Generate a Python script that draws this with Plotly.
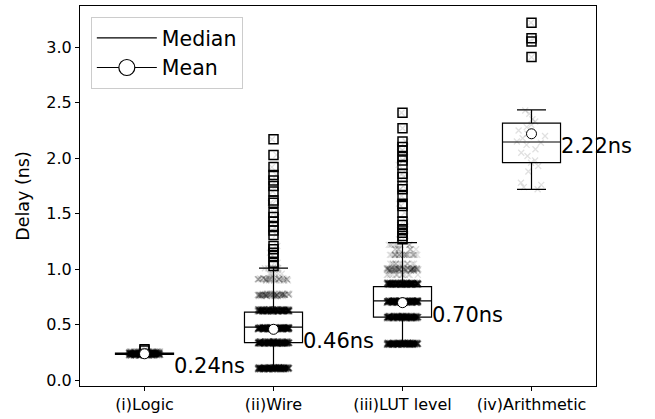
import plotly.graph_objects as go

categories = ["(i)Logic", "(ii)Wire", "(iii)LUT level", "(iv)Arithmetic"]

# box statistics (ns)
q1 = [0.235, 0.34, 0.57, 1.96]
median = [0.24, 0.48, 0.716, 2.146]
q3 = [0.245, 0.615, 0.844, 2.315]
lowerfence = [0.23, 0.11, 0.33, 1.72]
upperfence = [0.25, 1.01, 1.24, 2.435]
means = [0.24, 0.46, 0.70, 2.22]

# outliers (ns)
logic_out = [0.27, 0.28]
wire_out = [2.17, 2.03, 1.92, 1.85, 1.80, 1.75, 1.70, 1.62, 1.60, 1.51, 1.47,
            1.43, 1.38, 1.35, 1.31, 1.21, 1.18, 1.15, 1.12, 1.06, 1.03]
lut_out = [2.41, 2.27, 2.15, 2.10, 2.07, 2.01, 1.98, 1.94, 1.86, 1.83, 1.75,
           1.72, 1.66, 1.59, 1.57, 1.51, 1.43, 1.40, 1.36, 1.33, 1.30, 1.27]
arith_out = [3.22, 3.08, 3.05, 2.91]

# sample delay levels and how many samples sit at each level
logic_levels = [0.225, 0.23, 0.24, 0.25, 0.26]
logic_counts = [40, 90, 180, 120, 40]
wire_levels = [0.10, 0.11, 0.12, 0.33, 0.34, 0.35, 0.46, 0.47, 0.48,
               0.62, 0.63, 0.64, 0.76, 0.77, 0.78, 0.90, 0.91, 0.92, 0.96, 1.01]
wire_counts = [70, 180, 70, 70, 190, 70, 80, 220, 80,
               65, 170, 65, 18, 45, 18, 9, 22, 9, 6, 8]
lut_levels = [0.32, 0.33, 0.34, 0.56, 0.57, 0.58, 0.70, 0.71, 0.72,
              0.86, 0.87, 0.88, 0.95, 0.99, 1.00, 1.01, 1.05, 1.13, 1.18, 1.22]
lut_counts = [70, 180, 70, 75, 190, 75, 80, 220, 80,
              70, 170, 70, 14, 18, 36, 18, 14, 28, 9, 10]
arith_levels = [1.72, 1.74, 1.76, 1.78, 1.88, 1.93, 1.96, 1.98, 2.02, 2.05,
                2.08, 2.12, 2.14, 2.15, 2.18, 2.20, 2.22, 2.25, 2.28, 2.30,
                2.33, 2.35, 2.40, 2.43]
arith_counts = [1] * len(arith_levels)

levels = [logic_levels, wire_levels, lut_levels, arith_levels]
counts = [logic_counts, wire_counts, lut_counts, arith_counts]
outliers = [logic_out, wire_out, lut_out, arith_out]

FONT = "DejaVu Sans"
pos = list(range(1, len(categories) + 1))

fig = go.Figure()

# jittered sample points
pt_col = "rgba(0,0,0,0.12)"
for i in range(len(categories)):
    ys = []
    for v, c in zip(levels[i], counts[i]):
        ys += [v] * c
    ys += outliers[i]
    fig.add_trace(go.Box(
        y=ys, x0=pos[i], width=0.45, boxpoints="all", jitter=0.55, pointpos=0,
        fillcolor="rgba(0,0,0,0)", line=dict(color="rgba(0,0,0,0)", width=0),
        marker=dict(symbol="x-thin", size=6, color=pt_col,
                    line=dict(color=pt_col, width=1.3)),
        showlegend=False, hoverinfo="skip"))

# boxes
fig.add_trace(go.Box(
    x=pos, q1=q1, median=median, q3=q3, lowerfence=lowerfence, upperfence=upperfence,
    width=0.45, whiskerwidth=0.5, boxpoints=False,
    fillcolor="rgba(0,0,0,0)", line=dict(color="black", width=1.2),
    showlegend=False))

# outliers
ox, oy = [], []
for i in range(len(categories)):
    ox += [pos[i]] * len(outliers[i])
    oy += outliers[i]
fig.add_trace(go.Scatter(
    x=ox, y=oy, mode="markers",
    marker=dict(symbol="square-open", size=9, color="black", line=dict(width=1.5)),
    showlegend=False))

# means
fig.add_trace(go.Scatter(
    x=pos, y=means, mode="markers",
    marker=dict(symbol="circle", size=10, color="white", line=dict(color="black", width=1)),
    showlegend=False))

# legend proxies
fig.add_trace(go.Scatter(x=[None], y=[None], mode="lines", name="Median",
                         line=dict(color="black", width=1.2)))
fig.add_trace(go.Scatter(x=[None], y=[None], mode="lines+markers", name="Mean",
                         line=dict(color="black", width=1.2),
                         marker=dict(symbol="circle", size=17, color="white",
                                     line=dict(color="black", width=1.2))))

for i in range(len(categories)):
    fig.add_annotation(x=pos[i] + 0.225, y=means[i], text=f"{means[i]:.2f}ns",
                       xanchor="left", yanchor="top", showarrow=False,
                       font=dict(family=FONT, size=21, color="black"),
                       xshift=-2, yshift=2)

fig.update_layout(
    width=655, height=419,
    margin=dict(l=80, r=59, t=5, b=31),
    paper_bgcolor="white", plot_bgcolor="white",
    boxmode="overlay",
    font=dict(family=FONT, color="black"),
    legend=dict(x=0.021, y=0.971, xanchor="left", yanchor="top",
                bordercolor="#cccccc", borderwidth=1, bgcolor="white",
                font=dict(family=FONT, size=20.5), itemwidth=60),
)
fig.update_xaxes(range=[0.5, 4.5], tickvals=pos, ticktext=categories,
                 showline=True, linecolor="black", linewidth=1, mirror=True,
                 ticks="outside", ticklen=4, tickcolor="black",
                 showgrid=False, zeroline=False,
                 tickfont=dict(family=FONT, size=16))
fig.update_yaxes(range=[-0.05, 3.37], tickvals=[0, 0.5, 1.0, 1.5, 2.0, 2.5, 3.0],
                 tickformat=".1f",
                 showline=True, linecolor="black", linewidth=1, mirror=True,
                 ticks="outside", ticklen=4, tickcolor="black",
                 showgrid=False, zeroline=False,
                 title=dict(text="Delay (ns)", font=dict(family=FONT, size=17.5), standoff=12),
                 tickfont=dict(family=FONT, size=16))

fig.write_html("out.html", post_script="document.body.style.margin='0';",
               config={"displayModeBar": False})
